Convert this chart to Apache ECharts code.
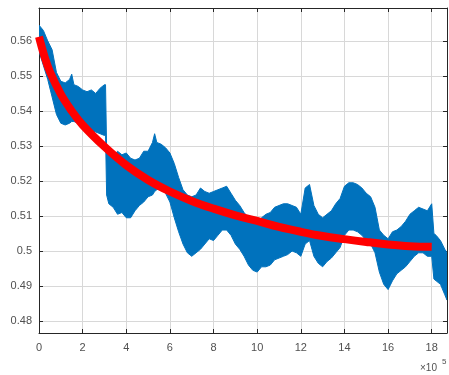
<!DOCTYPE html>
<html>
<head>
<meta charset="utf-8">
<script src="https://cdn.jsdelivr.net/npm/echarts@6/dist/echarts.min.js"></script>
<style>
  html, body { margin: 0; padding: 0; background: #fff; }
  #chart { width: 449px; height: 375px; }
</style>
</head>
<body>
<div id="chart"></div>
<script>
// x in units of 1e5; noisy signal as an upper/lower envelope
const noiseX = [
  0, 0.2, 0.4, 0.6, 0.8, 1.0, 1.2, 1.4, 1.5, 1.6, 1.8, 2.0, 2.2, 2.4, 2.6, 2.8, 3.0, 3.05,
  3.1, 3.2, 3.4, 3.6, 3.8, 4.0, 4.2, 4.4, 4.6, 4.8, 5.0, 5.2, 5.3,
  5.4, 5.6, 5.8, 6.0, 6.2, 6.4, 6.6, 6.8, 7.0, 7.2, 7.4, 7.6, 7.8, 8.0, 8.2, 8.4, 8.6, 8.8,
  9.0, 9.2, 9.4, 9.6, 9.8, 10.0, 10.2, 10.4, 10.6, 10.8, 11.0, 11.2, 11.4, 11.6, 11.8,
  12.0, 12.2, 12.4, 12.6, 12.8, 13.0, 13.2, 13.4, 13.6, 13.8, 14.0, 14.2, 14.4, 14.6, 14.8,
  15.0, 15.2, 15.4, 15.6, 15.8, 16.0, 16.2, 16.4, 16.6, 16.8, 17.0, 17.2, 17.4, 17.6, 17.8,
  18.0, 18.1, 18.2, 18.4, 18.6, 18.7
];
const noiseHigh = [
  0.5645, 0.563, 0.560, 0.5575, 0.551, 0.5485, 0.548, 0.549, 0.5505, 0.5475, 0.547, 0.546, 0.5455, 0.546, 0.545, 0.5465, 0.5475, 0.5475,
  0.529, 0.5275, 0.527, 0.5285, 0.5275, 0.528, 0.5265, 0.526, 0.5265, 0.5285, 0.5285, 0.531, 0.5335,
  0.531, 0.5305, 0.5295, 0.528, 0.525, 0.521, 0.5175, 0.516, 0.5155, 0.516, 0.518, 0.517, 0.5165, 0.517, 0.5175, 0.518, 0.5185, 0.5165,
  0.5145, 0.513, 0.511, 0.5095, 0.508, 0.5085, 0.5095, 0.5105, 0.511, 0.5125, 0.513, 0.5135, 0.5135, 0.513, 0.5125,
  0.5105, 0.518, 0.519, 0.513, 0.5105, 0.5095, 0.5105, 0.5115, 0.5135, 0.515, 0.5185, 0.5195, 0.5195, 0.519, 0.518,
  0.5165, 0.5155, 0.5125, 0.506, 0.5045, 0.5035, 0.5055, 0.506, 0.507, 0.5085, 0.5105, 0.5115, 0.5125, 0.512, 0.5115,
  0.5135, 0.505, 0.5045, 0.503, 0.5005, 0.4995
];
const noiseLow = [
  0.557, 0.553, 0.549, 0.544, 0.539, 0.5365, 0.536, 0.5365, 0.537, 0.537, 0.5365, 0.536, 0.535, 0.5345, 0.534, 0.5335, 0.533, 0.533,
  0.516, 0.5135, 0.5125, 0.5105, 0.511, 0.5095, 0.5095, 0.5115, 0.513, 0.514, 0.5155, 0.516, 0.517,
  0.5175, 0.518, 0.5165, 0.514, 0.5095, 0.5055, 0.502, 0.4995, 0.4985, 0.4995, 0.5005, 0.502, 0.5035, 0.503, 0.5045, 0.506, 0.506, 0.5045,
  0.502, 0.5005, 0.4985, 0.496, 0.4945, 0.494, 0.4955, 0.4955, 0.496, 0.4975, 0.498, 0.4985, 0.499, 0.5, 0.4995,
  0.4985, 0.502, 0.503, 0.4985, 0.4965, 0.4955, 0.497, 0.498, 0.4995, 0.501, 0.5045, 0.506, 0.506, 0.5055, 0.5045,
  0.503, 0.502, 0.4995, 0.494, 0.4905, 0.489, 0.4915, 0.4935, 0.4945, 0.4955, 0.497, 0.4985, 0.4995, 0.4995, 0.4985,
  0.4985, 0.492, 0.4915, 0.4905, 0.4875, 0.486
];

// fitted curve (red)
const fitX = [0, 0.25, 0.5, 1, 1.5, 2, 3, 4, 5, 6, 7, 8, 9, 10, 11, 12, 13, 14, 15, 16, 17, 18];
const fitY = [0.5612, 0.5556, 0.5512, 0.5448, 0.5400, 0.5360, 0.5298, 0.5245, 0.5203, 0.5170,
  0.5143, 0.5121, 0.5102, 0.5086, 0.5069, 0.5055, 0.5043, 0.5034, 0.5026, 0.5019, 0.5014, 0.5012];

const xTicks = [0, 2, 4, 6, 8, 10, 12, 14, 16, 18];
const xMax = 18.7;
const yMin = 0.4766;
const yMax = 0.5694;

const axisColor = '#262626';
const gridColor = '#d8d8d8';
const labelColor = '#505050';
const fontFamily = 'Liberation Sans, Arial, sans-serif';

const chart = echarts.init(document.getElementById('chart'), null, { renderer: 'canvas' });

const baseX = {
  type: 'value',
  min: 0,
  max: xMax,
  interval: 2,
  axisLine: { show: true, onZero: false, lineStyle: { color: axisColor, width: 1 } },
  axisTick: { show: true, inside: true, length: 4, lineStyle: { color: axisColor } },
};
const baseY = {
  type: 'value',
  min: yMin,
  max: yMax,
  splitNumber: 9,
  axisLine: { show: true, onZero: false, lineStyle: { color: axisColor, width: 1 } },
  axisTick: { show: true, inside: true, length: 4, lineStyle: { color: axisColor } },
};

chart.setOption({
  animation: false,
  grid: { left: 39, right: 2, top: 8, bottom: 42, containLabel: false },
  xAxis: [
    {
      ...baseX,
      position: 'bottom',
      axisLabel: {
        color: labelColor, fontSize: 11, fontFamily,
        margin: 9, showMaxLabel: false,
        formatter: v => (xTicks.includes(v) ? String(v) : '')
      },
      splitLine: { show: true, lineStyle: { color: gridColor, width: 1 } },
    },
    {
      ...baseX,
      position: 'top',
      axisLabel: { show: false },
      splitLine: { show: false },
    }
  ],
  yAxis: [
    {
      ...baseY,
      position: 'left',
      axisLabel: {
        color: labelColor, fontSize: 11, fontFamily,
        margin: 7, showMinLabel: false, showMaxLabel: false
      },
      splitLine: { show: true, lineStyle: { color: gridColor, width: 1 } },
    },
    {
      ...baseY,
      position: 'right',
      axisLabel: { show: false },
      splitLine: { show: false },
    }
  ],
  series: [
    {
      type: 'custom',
      name: 'signal',
      data: [0],
      clip: true,
      silent: true,
      z: 3,
      renderItem: (params, api) => {
        const top = noiseX.map((x, i) => api.coord([x, noiseHigh[i]]));
        const bottom = noiseX.map((x, i) => api.coord([x, noiseLow[i]])).reverse();
        return {
          type: 'polygon',
          shape: { points: top.concat(bottom) },
          style: { fill: '#0072BD', stroke: '#0072BD', lineWidth: 1 }
        };
      }
    },
    {
      type: 'line',
      name: 'fit',
      data: fitX.map((x, i) => [x, fitY[i]]),
      smooth: 0.4,
      showSymbol: false,
      lineStyle: { width: 8, color: '#FF0000', cap: 'butt' },
      silent: true,
      z: 4
    }
  ],
  graphic: [
    {
      type: 'text', left: 420, top: 363,
      style: { text: '×10', fill: labelColor, fontSize: 10, fontFamily }
    },
    {
      type: 'text', left: 442, top: 358,
      style: { text: '5', fill: labelColor, fontSize: 8, fontFamily }
    }
  ]
});
</script>
</body>
</html>
